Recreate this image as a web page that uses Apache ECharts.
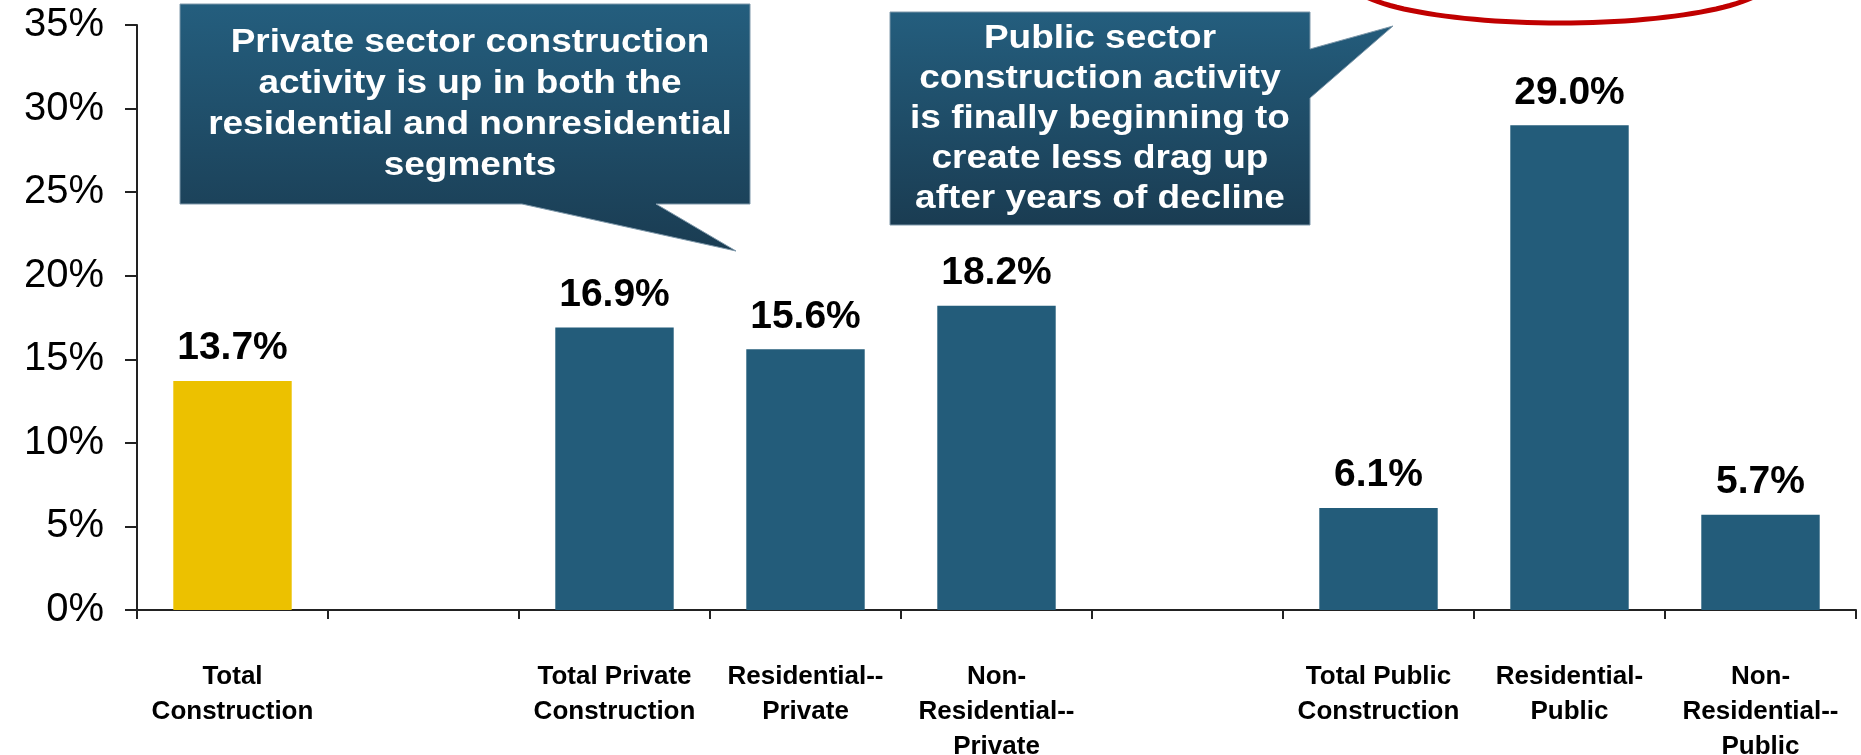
<!DOCTYPE html>
<html>
<head>
<meta charset="utf-8">
<script src="https://cdn.jsdelivr.net/npm/echarts@6/dist/echarts.min.js"></script>
<style>
html,body{margin:0;padding:0;background:#fff;}
#main{width:1861px;height:755px;}
</style>
</head>
<body>
<div id="main"></div>
<script>
// ---- data ----
const categories = [
  'Total\nConstruction',
  '',
  'Total Private\nConstruction',
  'Residential--\nPrivate',
  'Non-\nResidential--\nPrivate',
  '',
  'Total Public\nConstruction',
  'Residential-\nPublic',
  'Non-\nResidential--\nPublic'
];
const growthValues = [13.7, '-', 16.9, 15.6, 18.2, '-', 6.1, 29.0, 5.7];
const yTicks = [0, 5, 10, 15, 20, 25, 30, 35];
const privateNote = 'Private sector construction\nactivity is up in both the\nresidential and nonresidential\nsegments';
const publicNote = 'Public sector\nconstruction activity\nis finally beginning to\ncreate less drag up\nafter years of decline';

// ---- styles ----
const NAVY = '#235C7A';
const GOLD = '#ECC100';
const FONT = '"Liberation Sans", Arial, sans-serif';

const chart = echarts.init(document.getElementById('main'), null, {renderer: 'canvas'});

function calloutFill() {
  return new echarts.graphic.LinearGradient(0, 0, 0, 1, [
    {offset: 0, color: '#245E7E'},
    {offset: 1, color: '#1A3C52'}
  ]);
}

// ellipse outline (annotation)
const ell = [];
for (let i = 0; i <= 120; i++) {
  const t = (i / 120) * Math.PI * 2;
  ell.push([1560 + 210 * Math.cos(t), -19.5 + 42.5 * Math.sin(t)]);
}

const option = {
  backgroundColor: '#ffffff',
  animation: false,
  grid: {left: 137, right: 5, top: 25, bottom: 145, containLabel: false, outerBoundsMode: 'none'},
  xAxis: {
    type: 'category',
    data: categories,
    axisLine: {show: true, lineStyle: {color: '#222', width: 2}},
    axisTick: {show: true, length: 9, lineStyle: {color: '#222', width: 2}},
    axisLabel: {
      interval: 0,
      margin: 49,
      color: '#000',
      fontFamily: FONT,
      fontWeight: 'bold',
      fontSize: 26,
      lineHeight: 35
    },
    splitLine: {show: false}
  },
  yAxis: {
    type: 'value',
    min: yTicks[0],
    max: yTicks[yTicks.length - 1],
    interval: yTicks[1] - yTicks[0],
    axisLine: {show: true, lineStyle: {color: '#222', width: 2}},
    axisTick: {show: true, length: 12, lineStyle: {color: '#222', width: 2}},
    axisLabel: {
      margin: 33,
      color: '#000',
      fontFamily: FONT,
      fontSize: 40,
      formatter: v => v + '%'
    },
    splitLine: {show: false}
  },
  series: [{
    type: 'bar',
    data: growthValues,
    barCategoryGap: '38%',
    itemStyle: {
      color: p => (p.dataIndex === 0 ? GOLD : NAVY)
    },
    label: {
      show: true,
      position: 'top',
      distance: 13,
      color: '#000',
      fontFamily: FONT,
      fontWeight: 'bold',
      fontSize: 39,
      formatter: p => Number(p.value).toFixed(1) + '%'
    }
  }],
  graphic: [
    {
      type: 'polyline',
      silent: true,
      shape: {points: ell},
      style: {stroke: '#C00000', lineWidth: 5, fill: null}
    },
    {
      type: 'polygon',
      silent: true,
      shape: {points: [[180,4],[750,4],[750,204],[656,204],[736,251],[522,204],[180,204]]},
      style: {fill: calloutFill(), stroke: '#7E98AA', lineWidth: 1}
    },
    {
      type: 'text',
      silent: true,
      x: 470, y: 104,
      scaleX: 1.12,
      style: {
        text: privateNote,
        x: 0, y: 0,
        fill: '#fff',
        font: 'bold 33px ' + FONT,
        textAlign: 'center', textVerticalAlign: 'middle',
        align: 'center', verticalAlign: 'middle',
        lineHeight: 41
      }
    },
    {
      type: 'polygon',
      silent: true,
      shape: {points: [[890,12],[1310,12],[1310,49],[1393,26],[1310,98],[1310,225],[890,225]]},
      style: {fill: calloutFill(), stroke: '#7E98AA', lineWidth: 1}
    },
    {
      type: 'text',
      silent: true,
      x: 1100, y: 118.5,
      scaleX: 1.12,
      style: {
        text: publicNote,
        x: 0, y: 0,
        fill: '#fff',
        font: 'bold 33px ' + FONT,
        textAlign: 'center', textVerticalAlign: 'middle',
        align: 'center', verticalAlign: 'middle',
        lineHeight: 40
      }
    }
  ]
};
chart.setOption(option);
</script>
</body>
</html>
